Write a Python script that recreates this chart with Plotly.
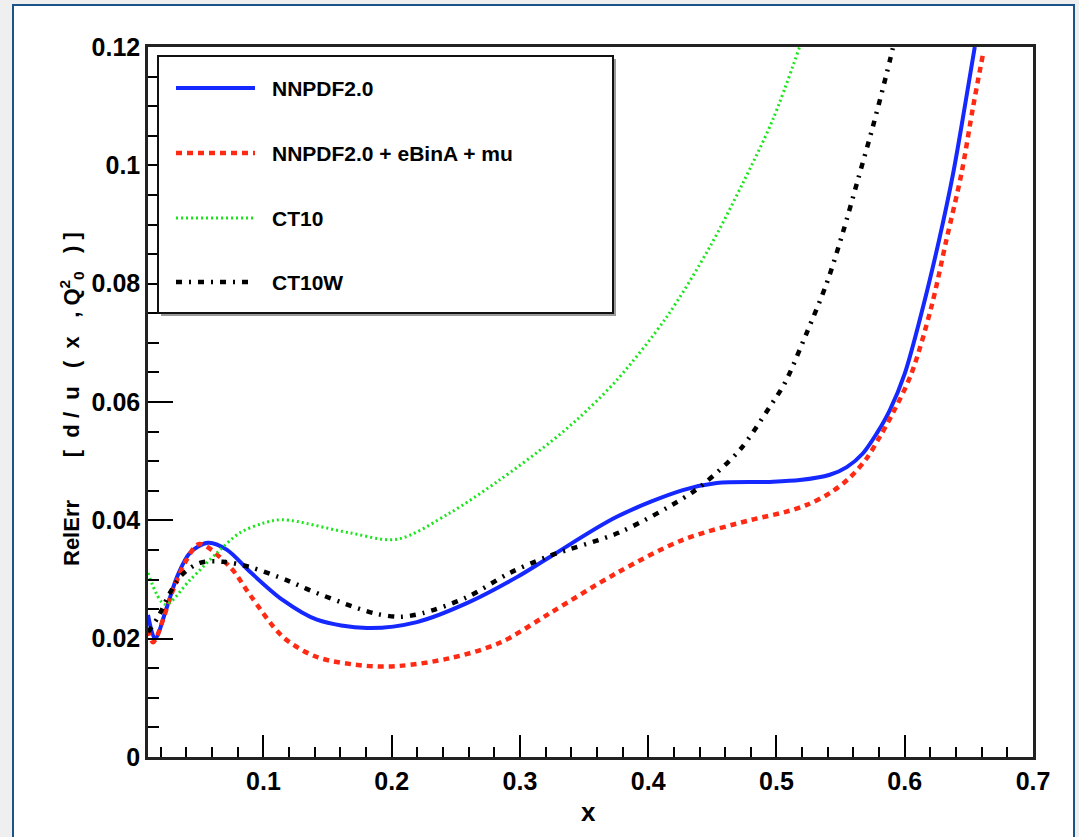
import plotly.graph_objects as go

# ---- data: relative uncertainty of d/u at the input scale ----
x_nnpdf = [0.010, 0.0155, 0.0248, 0.0326, 0.0427, 0.0568, 0.0716, 0.0895, 0.1152, 0.1417,
           0.1807, 0.2197, 0.2586, 0.2976, 0.3233, 0.3755, 0.427, 0.4535, 0.4925, 0.5182,
           0.5416, 0.5548, 0.5673, 0.5782, 0.5883, 0.6000, 0.6143, 0.6268, 0.6377, 0.6468,
           0.6546]
y_nnpdf = [0.0240, 0.0200, 0.0254, 0.0304, 0.0345, 0.0362, 0.0350, 0.0313, 0.0265, 0.0232,
           0.0218, 0.0228, 0.0260, 0.0304, 0.0338, 0.0406, 0.0451, 0.0463, 0.0465, 0.0468,
           0.0477, 0.0490, 0.0513, 0.0547, 0.0586, 0.0648, 0.0761, 0.0874, 0.0986, 0.1099,
           0.1200]

x_nnpdf_ebina = [0.010, 0.014, 0.0295, 0.040, 0.050, 0.074, 0.0895, 0.1152, 0.1417, 0.1807,
                 0.2064, 0.2454, 0.2843, 0.3233, 0.3755, 0.427, 0.479, 0.5065, 0.5236, 0.5416,
                 0.557, 0.5704, 0.5805, 0.5907, 0.6052, 0.6208, 0.6325, 0.6442, 0.6533, 0.6611]
y_nnpdf_ebina = [0.0215, 0.0194, 0.0282, 0.0333, 0.0360, 0.0321, 0.0274, 0.0203, 0.0169, 0.0154,
                 0.0154, 0.0167, 0.0193, 0.0243, 0.0311, 0.0367, 0.0400, 0.0414, 0.0426, 0.0446,
                 0.0472, 0.0505, 0.0541, 0.0581, 0.0648, 0.0761, 0.0874, 0.0986, 0.1099, 0.1189]

x_ct10 = [0.010, 0.0233, 0.0427, 0.0638, 0.0817, 0.0996, 0.115, 0.167, 0.204, 0.245,
          0.284, 0.323, 0.3444, 0.3755, 0.4145, 0.448, 0.4738, 0.4971, 0.518]
y_ct10 = [0.0311, 0.0258, 0.0299, 0.0345, 0.0379, 0.0395, 0.0401, 0.0379, 0.0368, 0.0412,
          0.0468, 0.0531, 0.0570, 0.0637, 0.0744, 0.0862, 0.0970, 0.1077, 0.1200]

x_ct10w = [0.010, 0.018, 0.027, 0.0365, 0.0505, 0.0685, 0.0895, 0.118, 0.136, 0.170,
           0.188, 0.2064, 0.224, 0.2586, 0.292, 0.3233, 0.378, 0.427, 0.444, 0.4714,
           0.4948, 0.5065, 0.5236, 0.5392, 0.5517, 0.5634, 0.5751, 0.586, 0.5907]
y_ct10w = [0.0211, 0.0237, 0.0277, 0.0308, 0.0328, 0.0330, 0.0321, 0.0299, 0.0282, 0.0254,
           0.0242, 0.0237, 0.0243, 0.0270, 0.0311, 0.0340, 0.0380, 0.0437, 0.0463, 0.0519,
           0.0592, 0.0632, 0.0717, 0.0801, 0.0886, 0.0975, 0.1065, 0.1156, 0.1198]

series_names = ["NNPDF2.0", "NNPDF2.0 + eBinA + mu", "CT10", "CT10W"]
x_title = "x"
y_title_parts = ["RelErr", "[", "d", "/", "u", "(", "x", ",", "Q<sup>2</sup><sub>0</sub>", ")", "]"]

# ---- styling ----
W, H = 1079, 837
ML, MR, MT, MB = 148, 46, 47, 80
PW, PH = W - ML - MR, H - MT - MB

FONT = "Liberation Sans"
styles = [
    dict(color="#1428ff", width=4, dash="solid"),
    dict(color="#ff2a14", width=4.5, dash="6px,5px"),
    dict(color="#19e619", width=3, dash="2px,3px"),
    dict(color="#000000", width=4.5, dash="6px,7px,2px,7px"),
]
xs = [x_nnpdf, x_nnpdf_ebina, x_ct10, x_ct10w]
ys = [y_nnpdf, y_nnpdf_ebina, y_ct10, y_ct10w]


def px_x(p):
    return (p - ML) / PW


def px_y(p):
    return (H - MB - p) / PH


fig = go.Figure()
for name, xv, yv, st in zip(series_names, xs, ys, styles):
    fig.add_trace(go.Scatter(
        x=xv, y=yv, name=name, mode="lines",
        line=dict(color=st["color"], width=st["width"], dash=st["dash"],
                  shape="spline", smoothing=0.9),
        showlegend=False,
    ))

shapes = []
# outer canvas frame
shapes.append(dict(type="rect", xref="paper", yref="paper",
                   x0=px_x(13), x1=px_x(1074), y0=px_y(845), y1=px_y(5),
                   line=dict(color="#1d5389", width=2), fillcolor="white", layer="below"))

# legend box (with a light drop shadow) and line samples
shapes.append(dict(type="rect", xref="paper", yref="paper",
                   x0=px_x(161), x1=px_x(616), y0=px_y(316), y1=px_y(59),
                   line=dict(width=0), fillcolor="#9a9a9a", layer="above"))
shapes.append(dict(type="rect", xref="paper", yref="paper",
                   x0=px_x(158), x1=px_x(613), y0=px_y(313), y1=px_y(56),
                   line=dict(color="#111111", width=2), fillcolor="white", layer="above"))
row_y = [88, 153, 218, 282]
annotations = []
for name, st, ry in zip(series_names, styles, row_y):
    shapes.append(dict(type="line", xref="paper", yref="paper",
                       x0=px_x(176), x1=px_x(255), y0=px_y(ry), y1=px_y(ry),
                       line=dict(color=st["color"], width=st["width"], dash=st["dash"]),
                       layer="above"))
    annotations.append(dict(xref="paper", yref="paper", x=px_x(270), y=px_y(ry),
                            xanchor="left", yanchor="middle", showarrow=False, text=name,
                            font=dict(family=FONT, size=21, color="black", weight="bold")))

# axis titles
nb = "\u00a0"
gaps = [7, 2, 1, 2, 3, 2, 3, 1, 3, 1]
ytxt = y_title_parts[0]
for g, part in zip(gaps, y_title_parts[1:]):
    ytxt += nb * g + part
annotations.append(dict(xref="paper", yref="paper", x=px_x(71), y=px_y(399),
                        xanchor="center", yanchor="middle", showarrow=False,
                        textangle=-90, text=ytxt,
                        font=dict(family=FONT, size=22, color="black", weight="bold")))
annotations.append(dict(xref="paper", yref="paper", x=px_x(588), y=px_y(812),
                        xanchor="center", yanchor="middle", showarrow=False, text=x_title,
                        font=dict(family=FONT, size=26, color="black", weight="bold")))

tickfont = dict(family=FONT, size=25, color="black", weight="bold")
fig.update_layout(
    width=W, height=H,
    margin=dict(l=ML, r=MR, t=MT, b=MB, autoexpand=False),
    paper_bgcolor="#efefef", plot_bgcolor="white",
    shapes=shapes, annotations=annotations,
    showlegend=False,
    xaxis=dict(range=[0.01, 0.7], tick0=0, dtick=0.1, ticks="inside", ticklen=22,
               tickwidth=2, tickcolor="black", showgrid=False, zeroline=False,
               showline=True, linecolor="#222222", linewidth=2.5, mirror=True,
               tickfont=tickfont, ticklabelstandoff=0,
               minor=dict(dtick=0.02, ticks="inside", ticklen=10, tickwidth=2,
                          tickcolor="black", showgrid=False)),
    yaxis=dict(range=[0, 0.12], tick0=0, dtick=0.02, ticks="inside", ticklen=25,
               tickwidth=2, tickcolor="black", showgrid=False, zeroline=False,
               showline=True, linecolor="#222222", linewidth=2.5, mirror=True,
               tickfont=tickfont, ticklabelstandoff=0,
               minor=dict(dtick=0.005, ticks="inside", ticklen=11, tickwidth=2,
                          tickcolor="black", showgrid=False)),
)

fig.write_html("out.html")
